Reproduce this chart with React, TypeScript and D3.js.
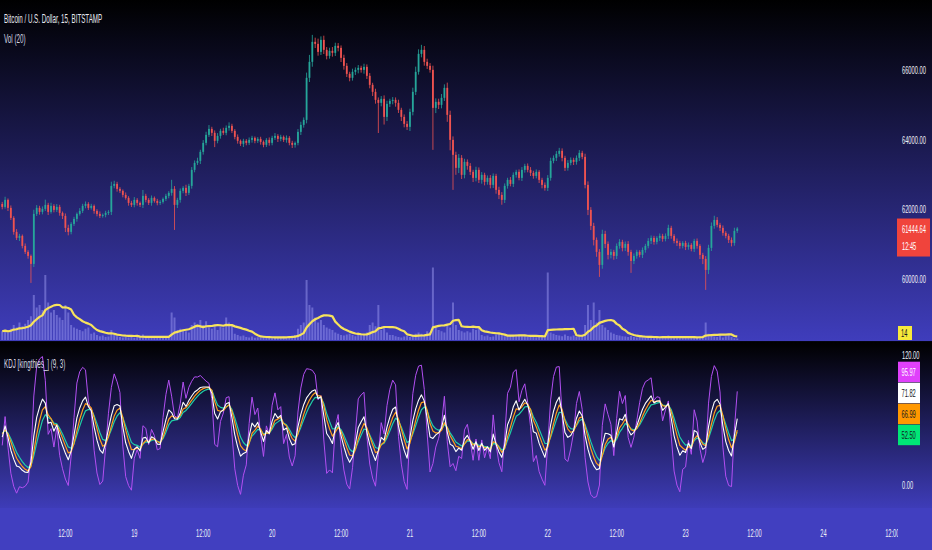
import React, { useEffect, useRef } from "react";
import * as d3 from "d3";

const W = 932;
const H = 550;

// 30 minute bars starting 18 Mar 01:00 UTC
const firstBar = Date.UTC(2024, 2, 18, 1, 0);
const barMs = 30 * 60 * 1000;
const firstOpen = 62150;

const closes18 = [
  62066, 62268, 62038, 61750, 61348, 61175, 61233, 60945, 60773, 60658,
  60428, 61865, 62038, 61922, 62009, 62124, 61922, 62095, 61980, 62066,
  61894, 61807, 61463, 61348, 61578, 61721, 61865, 61951, 62095, 62152,
  62038, 62095, 61951, 61865, 61807, 61836, 61894, 61922, 62670, 62727,
  62584, 62527, 62411, 62325, 62181, 62124,
];
const closes19 = [
  62268, 62181, 62124, 62383, 62268, 62181, 62325, 62238, 62181, 62210,
  62296, 62383, 62469, 62584, 62124, 62268, 62527, 62613, 62469, 62670,
  63130, 63331, 63389, 63648, 63906, 64136, 64308, 64194, 63964, 64107,
  64251, 64194, 64337, 64395, 64251, 64078, 63964, 63878, 63964, 63906,
  63992, 64050, 63964, 64021, 63935, 63849, 63992, 63906,
];
const closes20 = [
  64050, 64107, 64021, 64078, 63992, 64050, 63906, 63849, 63906, 64222,
  64423, 64567, 65775, 66234, 66809, 66751, 66521, 66866, 66579, 66406,
  66550, 66493, 66694, 66636, 66349, 66119, 65889, 65775, 65947, 66004,
  66062, 66004, 66090, 65832, 65573, 65372, 65142, 65056, 65171, 64653,
  65027, 65113, 65142, 65056, 64855, 64653, 64452, 64366,
];
const closes21 = [
  64797, 65372, 65947, 66464, 66579, 66234, 66119, 66004, 64912, 65085,
  64998, 65200, 65487, 64711, 63992, 63562, 63188, 63475, 62987, 63360,
  63245, 63073, 62900, 63130, 62843, 62987, 62785, 62900, 62699, 62957,
  62555, 62411, 62268, 62670, 62843, 62727, 62987, 63073, 62900, 63130,
  63245, 63130, 63044, 62957, 63073, 62843, 62699, 62613,
];
const closes22 = [
  62900, 63389, 63475, 63590, 63677, 63475, 63188, 63331, 63418, 63360,
  63475, 63619, 63504, 62699, 61980, 61520, 61118, 60773, 60399, 61290,
  61003, 60687, 60773, 60658, 60945, 61060, 60888, 61003, 60773, 60514,
  60658, 60773, 60687, 60830, 60945, 61089, 61175, 61060, 61175, 61233,
  61146, 61233, 61463, 61233, 61089, 61031, 60945, 61031,
];
const closes23 = [
  60916, 60974, 60859, 61089, 60945, 60687, 60572, 60255, 60888, 61520,
  61692, 61549, 61463, 61319, 61233, 61118, 61031, 61377, 61444.64,
];

const wickUp = [
  60, 90, 40, 70, 50, 80, 60, 40, 70, 50, 40, 120, 80, 60, 70, 150, 60, 90, 50, 80,
  60, 40, 70, 90, 50, 60, 40, 80, 60, 70, 50, 60, 40, 50, 70, 40, 60, 50, 120, 90,
  60, 50, 40, 70, 50, 60, 80, 50, 40, 170, 60, 50, 70, 40, 60, 50, 40, 60, 50, 260,
  80, 60, 70, 50, 90, 60, 80, 70, 90, 60, 80, 90, 110, 60, 70, 80, 60, 90, 70, 100,
  60, 50, 70, 40, 60, 50, 70, 60, 40, 50, 60, 40, 50, 70, 60, 80, 50, 60, 40, 70,
  50, 60, 40, 80, 90, 70, 150, 200, 200, 120, 150, 100, 120, 80, 90, 110, 90, 80, 70, 90,
  80, 60, 90, 70, 80, 60, 90, 70, 80, 60, 90, 70, 80, 100, 90, 60, 80, 70, 90, 60,
  70, 80, 90, 120, 150, 130, 144, 110, 90, 80, 120, 100, 90, 110, 100, 150, 120, 100, 90, 110,
  80, 90, 70, 80, 60, 90, 70, 80, 60, 70, 80, 70, 60, 90, 80, 70, 60, 80, 70, 60,
  70, 80, 60, 70, 80, 60, 70, 50, 60, 70, 80, 90, 70, 80, 86, 70, 60, 80, 70, 60,
  70, 80, 60, 90, 100, 80, 90, 70, 80, 120, 90, 70, 80, 60, 70, 80, 60, 70, 80, 60,
  70, 60, 50, 70, 60, 80, 70, 60, 50, 70, 60, 70, 90, 60, 50, 70, 60, 50, 60, 70,
  50, 60, 70, 50, 60, 80, 90, 100, 120, 80, 60, 70, 50, 60, 70, 90, 40,
];
const wickDown = [
  70, 50, 90, 60, 80, 60, 90, 70, 60, 80, 546, 90, 60, 80, 70, 60, 90, 50, 70, 60,
  80, 90, 120, 100, 70, 60, 80, 50, 60, 70, 60, 50, 80, 70, 60, 50, 70, 60, 90, 70,
  80, 60, 70, 50, 80, 60, 70, 80, 60, 90, 70, 60, 80, 50, 70, 60, 50, 60, 70, 80,
  720, 90, 80, 70, 90, 60, 80, 70, 60, 90, 80, 70, 60, 90, 180, 70, 80, 60, 70, 80,
  60, 70, 80, 60, 90, 70, 60, 80, 70, 60, 80, 70, 60, 80, 70, 60, 90, 70, 60, 80,
  70, 90, 80, 70, 90, 80, 100, 120, 140, 120, 110, 90, 120, 100, 80, 110, 90, 100, 120, 110,
  90, 100, 80, 90, 100, 80, 110, 90, 100, 120, 110, 866, 100, 220, 120, 90, 100, 110, 90, 120,
  100, 90, 120, 100, 90, 80, 100, 110, 90, 80, 1207, 150, 120, 100, 90, 200, 300, 1007, 200, 150,
  120, 100, 110, 90, 120, 100, 90, 110, 100, 80, 100, 90, 110, 120, 140, 90, 80, 70, 90, 80,
  70, 90, 80, 70, 90, 80, 70, 90, 100, 80, 90, 80, 70, 90, 80, 100, 90, 80, 70, 90,
  80, 90, 70, 100, 150, 120, 160, 140, 345, 110, 120, 130, 100, 110, 90, 80, 100, 90, 110, 344,
  90, 80, 70, 90, 80, 70, 90, 80, 70, 90, 80, 70, 90, 80, 70, 90, 80, 70, 90, 80,
  70, 90, 80, 120, 150, 574, 120, 90, 80, 70, 90, 80, 70, 90, 100, 80, 60,
];

const volume18 = [
  35, 40, 28, 45, 60, 50, 70, 55, 65, 80, 95, 180, 130, 140, 120, 260, 150, 110, 120, 100,
  90, 80, 140, 110, 60, 50, 45, 40, 35, 45, 50, 25, 30, 20, 15, 18, 12, 14, 40, 25,
  15, 12, 10, 12, 10, 14,
];
const volume19 = [
  9, 16, 11, 22, 10, 12, 9, 11, 13, 10, 12, 15, 14, 110, 90, 40, 45, 40, 35, 30,
  60, 70, 55, 80, 60, 75, 50, 45, 60, 40, 55, 50, 90, 70, 60, 25, 20, 15, 18, 12,
  10, 14, 9, 11, 10, 12, 9, 13,
];
const volume20 = [
  10, 8, 12, 10, 14, 11, 16, 18, 20, 45, 60, 70, 240, 140, 130, 90, 70, 80, 60, 50,
  45, 40, 30, 25, 20, 18, 22, 25, 20, 15, 30, 25, 20, 30, 60, 70, 55, 140, 40, 50,
  30, 20, 20, 15, 12, 10, 14, 16,
];
const volume21 = [
  12, 20, 25, 30, 25, 20, 35, 30, 290, 50, 40, 35, 30, 60, 50, 150, 60, 40, 35, 30,
  35, 30, 45, 40, 55, 20, 15, 18, 12, 14, 22, 25, 20, 15, 14, 20, 16, 22, 18, 15,
  19, 12, 16, 14, 11, 13, 12, 10,
];
const volume22 = [
  270, 30, 25, 20, 18, 15, 22, 16, 14, 18, 12, 14, 20, 60, 140, 80, 150, 70, 120, 60,
  50, 40, 30, 25, 20, 18, 15, 14, 12, 16, 12, 10, 14, 11, 9, 13, 12, 10, 11, 9,
  14, 12, 18, 10, 9, 11, 12, 10,
];
const volume23 = [9, 13, 11, 10, 12, 14, 16, 70, 25, 18, 14, 12, 22, 10, 15, 25, 12, 7, 6];

const priceTicks = [60000, 62000, 64000, 66000];
const kdjTicks = [0, 40, 80, 120];
const kdjLast = [95.97, 71.82, 66.99, 52.5];
const kdjColors = ["#e040fb", "#ffffff", "#ff9800", "#00e676"];
const kdjText = ["#ffffff", "#131722", "#131722", "#131722"];
const countdown = "12:45";

const volMaLen = 10; // 20 x 15m expressed in 30m bars
const kdjLen = 4; // 9 x 15m expressed in 30m bars

const FONT = "'Liberation Sans', Arial, sans-serif";
const SQ = 0.52;

const plotRight = 898;
const mainBottom = 341;
const kdjTop = 342;
const kdjBottom = 508;

const App = () => {
  const ref = useRef(null);

  useEffect(() => {
    const svg = d3.select(ref.current);
    svg.selectAll("*").remove();

    const closes = [...closes18, ...closes19, ...closes20, ...closes21, ...closes22, ...closes23];
    const volumes = [...volume18, ...volume19, ...volume20, ...volume21, ...volume22, ...volume23];
    const bars = closes.map((c, i) => {
      const o = i === 0 ? firstOpen : closes[i - 1];
      return {
        t: new Date(firstBar + i * barMs),
        open: o,
        close: c,
        high: Math.max(o, c) + wickUp[i],
        low: Math.min(o, c) - wickDown[i],
        vol: volumes[i],
      };
    });

    // volume moving average
    const volMa = bars.map((b, i) => d3.mean(bars.slice(Math.max(0, i - volMaLen + 1), i + 1), (d) => d.vol));

    // KDJ: white K, orange fast signal, teal D, purple J
    let k = 50;
    let d = 50;
    let f = 50;
    const kdj = bars.map((b, i) => {
      const win = bars.slice(Math.max(0, i - kdjLen + 1), i + 1);
      const hh = d3.max(win, (w) => w.high);
      const ll = d3.min(win, (w) => w.low);
      const rsv = hh === ll ? 50 : ((b.close - ll) / (hh - ll)) * 100;
      k = (2 * k + rsv) / 3;
      d = (2 * d + k) / 3;
      f = (f + k) / 2;
      return { t: b.t, k, d, f, j: 3 * k - 2 * d };
    });

    const x = d3
      .scaleUtc()
      .domain([new Date(Date.UTC(2024, 2, 18, 12)), new Date(Date.UTC(2024, 2, 24, 12))])
      .range([65.4, 892.3]);
    const y = d3.scaleLinear().domain([60000, 66000]).range([278.8, 70]);
    const yv = d3.scaleLinear().domain([0, 400]).range([340, 240]);
    const yk = d3.scaleLinear().domain([0, 120]).range([485, 355]);

    const defs = svg.append("defs");
    const grad = (id: string, y1: number, y2: number, c1: string, c2: string) => {
      const g = defs
        .append("linearGradient")
        .attr("id", id)
        .attr("gradientUnits", "userSpaceOnUse")
        .attr("x1", 0)
        .attr("x2", 0)
        .attr("y1", y1)
        .attr("y2", y2);
      g.append("stop").attr("offset", 0).attr("stop-color", c1);
      g.append("stop").attr("offset", 1).attr("stop-color", c2);
    };
    grad("bgMain", 0, mainBottom, "#000000", "#3f3dbc");
    grad("bgKdj", kdjTop, kdjBottom, "#000000", "#3e3cb8");
    defs.append("clipPath").attr("id", "clipMain").append("rect").attr("x", 0).attr("y", 0).attr("width", plotRight).attr("height", mainBottom);
    defs.append("clipPath").attr("id", "clipKdj").append("rect").attr("x", 0).attr("y", kdjTop).attr("width", plotRight).attr("height", kdjBottom - kdjTop);
    defs.append("clipPath").attr("id", "clipTime").append("rect").attr("x", 0).attr("y", kdjBottom).attr("width", plotRight).attr("height", H - kdjBottom);

    svg.append("rect").attr("x", 0).attr("y", 0).attr("width", W).attr("height", H).attr("fill", "#413fc0");
    svg.append("rect").attr("x", 0).attr("y", 0).attr("width", W).attr("height", mainBottom).attr("fill", "url(#bgMain)");
    svg.append("rect").attr("x", 0).attr("y", mainBottom).attr("width", W).attr("height", 1).attr("fill", "#050510");
    svg.append("rect").attr("x", 0).attr("y", kdjTop).attr("width", W).attr("height", kdjBottom - kdjTop).attr("fill", "url(#bgKdj)");

    const label = (
      g: any,
      px: number,
      py: number,
      str: string,
      size: number,
      fill: string,
      anchor = "start"
    ) =>
      g
        .append("text")
        .attr("transform", `translate(${px},${py}) scale(${SQ},1)`)
        .attr("font-family", FONT)
        .attr("font-size", size)
        .attr("fill", fill)
        .attr("text-anchor", anchor)
        .text(str);

    // main pane
    const main = svg.append("g").attr("clip-path", "url(#clipMain)");

    main
      .selectAll("rect.vol")
      .data(bars)
      .join("rect")
      .attr("class", "vol")
      .attr("x", (b) => x(b.t) - 1)
      .attr("width", 2)
      .attr("y", (b) => yv(b.vol))
      .attr("height", (b) => yv(0) - yv(b.vol))
      .attr("fill", "#9a98f0")
      .attr("opacity", 0.5);

    main
      .append("path")
      .datum(bars)
      .attr("fill", "none")
      .attr("stroke", "#f7e35c")
      .attr("stroke-width", 2.2)
      .attr("stroke-linejoin", "round")
      .attr(
        "d",
        d3
          .line<any>()
          .x((b) => x(b.t))
          .y((b, i) => yv(volMa[i]))
      );

    const up = "#26a69a";
    const down = "#ef5350";
    main
      .selectAll("line.wick")
      .data(bars)
      .join("line")
      .attr("class", "wick")
      .attr("x1", (b) => x(b.t))
      .attr("x2", (b) => x(b.t))
      .attr("y1", (b) => y(b.high))
      .attr("y2", (b) => y(b.low))
      .attr("stroke", (b) => (b.close >= b.open ? up : down))
      .attr("stroke-width", 0.8);
    main
      .selectAll("rect.body")
      .data(bars)
      .join("rect")
      .attr("class", "body")
      .attr("x", (b) => x(b.t) - 0.9)
      .attr("width", 1.8)
      .attr("y", (b) => y(Math.max(b.open, b.close)))
      .attr("height", (b) => Math.max(1, Math.abs(y(b.open) - y(b.close))))
      .attr("fill", (b) => (b.close >= b.open ? up : down));

    // KDJ pane
    const kg = svg.append("g").attr("clip-path", "url(#clipKdj)");
    const series = [
      { key: "j", color: "#b24ff2", w: 1 },
      { key: "d", color: "#1fcfa8", w: 1.2 },
      { key: "f", color: "#ff9e1b", w: 1.2 },
      { key: "k", color: "#ffffff", w: 1.1 },
    ];
    series.forEach((sr) => {
      kg.append("path")
        .datum(kdj)
        .attr("fill", "none")
        .attr("stroke", sr.color)
        .attr("stroke-width", sr.w)
        .attr("stroke-linejoin", "round")
        .attr(
          "d",
          d3
            .line<any>()
            .x((p) => x(p.t))
            .y((p) => yk(p[sr.key]))
        );
    });

    // titles
    label(svg, 4, 23, "Bitcoin / U.S. Dollar, 15, BITSTAMP", 12, "#e6e8ef");
    label(svg, 4, 43, "Vol (20)", 12, "#d6d8e2");
    label(svg, 4, 368, "KDJ [kingthies_] (9, 3)", 12, "#d6d8e2");

    // price axis
    priceTicks.forEach((p) => label(svg, 902, y(p) + 4, d3.format(".2f")(p), 11, "#eef0f6"));

    // last price label
    const last = bars[bars.length - 1];
    const yp = y(last.close);
    svg.append("rect").attr("x", 897).attr("y", yp - 10).attr("width", 33).attr("height", 38).attr("fill", "#f0443c");
    label(svg, 902, yp + 4, d3.format(".2f")(last.close), 11, "#ffffff");
    label(svg, 902, yp + 21, countdown, 11, "#ffffff");

    // volume MA label
    const lastMa = volMa[volMa.length - 1];
    const yma = Math.min(yv(lastMa), mainBottom - 8);
    svg.append("rect").attr("x", 898).attr("y", yma - 7).attr("width", 14).attr("height", 14).attr("fill", "#f7ea3a");
    label(svg, 901, yma + 4, d3.format(".0f")(lastMa), 11, "#131722");

    // KDJ last value labels, stacked like the price scale does
    const bh = 21;
    const groups = kdjLast.map((v, i) => ({ items: [i], c: yk(v) }));
    let merged = true;
    while (merged) {
      merged = false;
      for (let g = 0; g < groups.length - 1; g++) {
        const a = groups[g];
        const b = groups[g + 1];
        const aBottom = a.c + (a.items.length * bh) / 2;
        const bTop = b.c - (b.items.length * bh) / 2;
        if (aBottom > bTop) {
          const items = [...a.items, ...b.items];
          const c = d3.mean(items, (i) => yk(kdjLast[i])) as number;
          groups.splice(g, 2, { items, c });
          merged = true;
          break;
        }
      }
    }
    const boxes: [number, number][] = [];
    groups.forEach((g) => {
      const top = g.c - (g.items.length * bh) / 2 - 3.5;
      boxes.push([top, top + g.items.length * bh]);
      g.items.forEach((i, n) => {
        const by = top + n * bh;
        svg.append("rect").attr("x", 898).attr("y", by).attr("width", 22).attr("height", bh - 0.5).attr("fill", kdjColors[i]);
        label(svg, 901.5, by + 14, d3.format(".2f")(kdjLast[i]), 11, kdjText[i]);
      });
    });

    // KDJ scale ticks, hidden where the value labels cover them
    kdjTicks.forEach((v) => {
      const ty = yk(v);
      const covered = boxes.some(([t, b]) => ty + 5 > t && ty - 5 < b);
      if (!covered) label(svg, 902, ty + 4, d3.format(".2f")(v), 11, "#eef0f6");
    });

    // time axis
    const tg = svg.append("g").attr("clip-path", "url(#clipTime)");
    x.ticks(d3.utcHour.every(12) as any).forEach((t) => {
      const str = t.getUTCHours() === 12 ? "12:00" : d3.utcFormat("%-d")(t);
      label(tg, x(t), 537, str, 11, "#eef0f6", "middle");
    });
  }, []);

  return (
    <svg
      ref={ref}
      width={W}
      height={H}
      viewBox={`0 0 ${W} ${H}`}
      style={{ position: "fixed", left: 0, top: 0, display: "block" }}
    ></svg>
  );
};

export default App;
